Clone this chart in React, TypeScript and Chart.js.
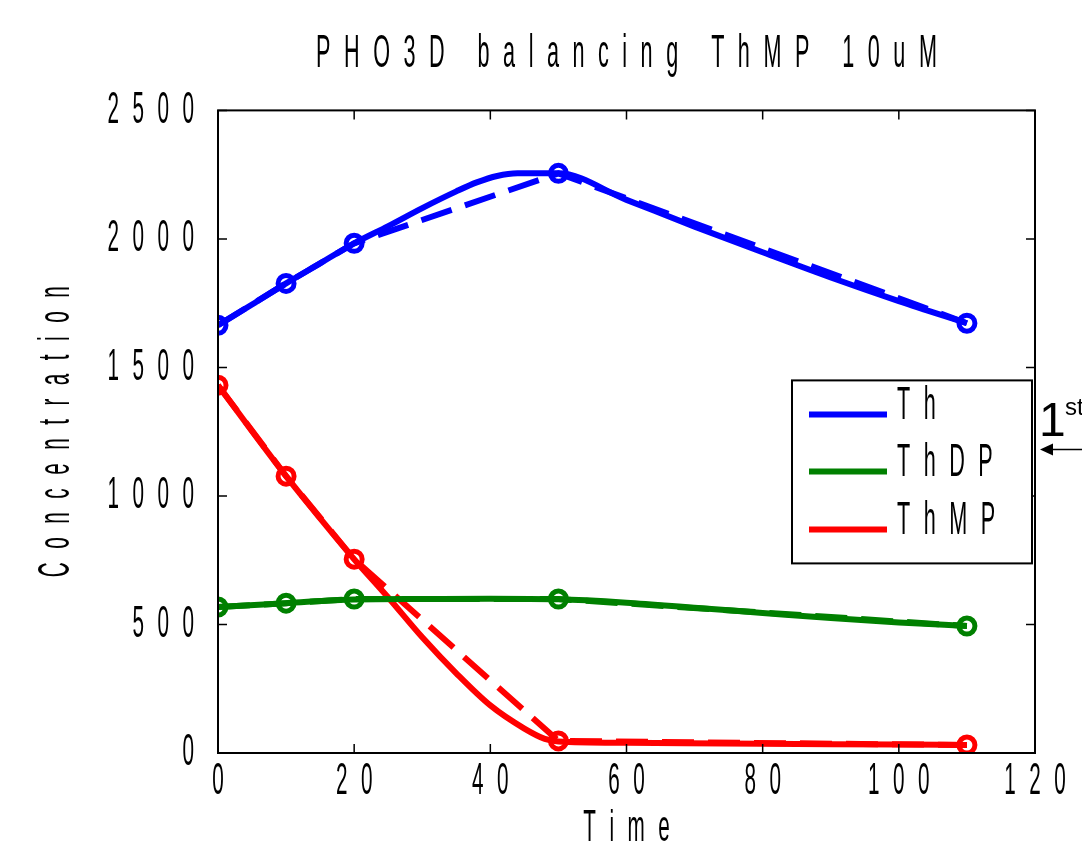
import React, { useEffect, useRef } from 'react';
import { Chart, registerables } from 'chart.js';

Chart.register(...registerables);

// ---- Data ----
const titleText = 'PHO3D balancing ThMP 10uM';
const xTitle = 'Time';
const yTitle = 'Concentration';
const legendLabels = ['Th', 'ThDP', 'ThMP'];

const xTickValues = [0, 20, 40, 60, 80, 100, 120];
const yTickValues = [0, 500, 1000, 1500, 2000, 2500];

// measured points (dashed lines with circle markers)
const times = [0, 10, 20, 50, 110];
const thData = [1664, 1827, 1983, 2255, 1672];
const thdpData = [568, 583, 599, 599, 494];
const thmpData = [1431, 1077, 754, 47, 31];

// model curves (solid lines)
const thModelTimes = [0, 5, 10, 15, 20, 25, 30, 35, 38, 41, 44, 50, 60, 70, 80, 90, 100, 110];
const thModel = [1664, 1745, 1827, 1905, 1983, 2050, 2120, 2185, 2220, 2245, 2255, 2255, 2152, 2048, 1948, 1850, 1758, 1672];
const thdpModelTimes = [0, 10, 20, 30, 40, 50, 60, 70, 80, 90, 100, 110];
const thdpModel = [568, 583, 597, 599, 600, 598, 585, 565, 545, 525, 508, 494];
const thmpModelTimes = [0, 5, 10, 15, 20, 25, 30, 35, 40, 45, 48, 50, 60, 80, 100, 110];
const thmpModel = [1431, 1252, 1077, 913, 754, 605, 450, 310, 185, 95, 55, 45, 40, 36, 33, 31];

const BLUE = '#0000ff';
const GREEN = '#008000';
const RED = '#ff0000';
const colors = [BLUE, GREEN, RED];

const FONT = 'Liberation Sans, Arial, sans-serif';
const FS = 45;
const SX = 0.46;
const SPACING = 13.5;

let origFill: any = null;

function spacedText(ctx: CanvasRenderingContext2D, text: any, x: number, y: number) {
  const chars = Array.from(String(text));
  const ws = chars.map((c) => ctx.measureText(c).width * SX);
  const total = ws.reduce((a, b) => a + b, 0) + SPACING * Math.max(0, chars.length - 1);
  const align = ctx.textAlign;
  let start = x;
  if (align === 'center') start = x - total / 2;
  else if (align === 'right' || align === 'end') start = x - total;
  ctx.textAlign = 'left';
  let pos = start;
  chars.forEach((c, i) => {
    ctx.save();
    ctx.translate(pos, y);
    ctx.scale(SX, 1);
    origFill.call(ctx, c, 0, 0);
    ctx.restore();
    pos += ws[i] + SPACING;
  });
  ctx.textAlign = align;
}

const pts = (xs: number[], ys: number[]) => xs.map((t, i) => ({ x: t, y: ys[i] }));

const boxPlugin = {
  id: 'matlabBox',
  afterDatasetsDraw(chart: any) {
    const { ctx, chartArea: a, scales } = chart;
    ctx.save();
    ctx.strokeStyle = '#000';
    ctx.lineWidth = 2;
    ctx.strokeRect(a.left, a.top, a.right - a.left, a.bottom - a.top);
    ctx.lineWidth = 1.5;
    const tl = 9;
    ctx.beginPath();
    xTickValues.forEach((v) => {
      const px = scales.x.getPixelForValue(v);
      ctx.moveTo(px, a.bottom);
      ctx.lineTo(px, a.bottom - tl);
      ctx.moveTo(px, a.top);
      ctx.lineTo(px, a.top + tl);
    });
    yTickValues.forEach((v) => {
      const py = scales.y.getPixelForValue(v);
      ctx.moveTo(a.left, py);
      ctx.lineTo(a.left + tl, py);
      ctx.moveTo(a.right, py);
      ctx.lineTo(a.right - tl, py);
    });
    ctx.stroke();
    ctx.restore();
  },
};

const legendPlugin = {
  id: 'matlabLegend',
  afterDraw(chart: any) {
    const { ctx, chartArea: a } = chart;
    const left = a.right - 243;
    const top = a.top + 270;
    const w = 240;
    const h = 183;
    ctx.save();
    ctx.fillStyle = '#fff';
    ctx.fillRect(left, top, w, h);
    ctx.strokeStyle = '#000';
    ctx.lineWidth = 2;
    ctx.strokeRect(left, top, w, h);
    const rows = [34, 91, 149];
    legendLabels.forEach((lab, i) => {
      const y = top + rows[i];
      ctx.strokeStyle = colors[i];
      ctx.lineWidth = 6;
      ctx.beginPath();
      ctx.moveTo(left + 17, y);
      ctx.lineTo(left + 95, y);
      ctx.stroke();
      ctx.fillStyle = '#000';
      ctx.font = `${FS + 2}px ${FONT}`;
      ctx.textAlign = 'left';
      ctx.textBaseline = 'middle';
      ctx.fillText(lab, left + 105, y - 8);
    });
    // "1st" annotation with arrow at the right edge
    ctx.fillStyle = '#000';
    ctx.textAlign = 'left';
    ctx.textBaseline = 'alphabetic';
    ctx.font = `48px ${FONT}`;
    origFill.call(ctx, '1', a.right + 4, top + 56);
    ctx.font = `24px ${FONT}`;
    origFill.call(ctx, 'st', a.right + 30, top + 35);
    ctx.strokeStyle = '#000';
    ctx.lineWidth = 1.5;
    ctx.beginPath();
    ctx.moveTo(chart.width, top + 69);
    ctx.lineTo(a.right + 12, top + 69);
    ctx.stroke();
    ctx.beginPath();
    ctx.moveTo(a.right + 5, top + 69);
    ctx.lineTo(a.right + 18, top + 63);
    ctx.lineTo(a.right + 18, top + 75);
    ctx.closePath();
    ctx.fill();
    ctx.restore();
  },
};

export default function App() {
  const ref = useRef<HTMLCanvasElement | null>(null);
  useEffect(() => {
    document.body.style.margin = '0';
    document.body.style.overflow = 'hidden';
    const canvas = ref.current!;
    const ctx = canvas.getContext('2d')!;
    origFill = ctx.fillText;
    (ctx as any).fillText = function (text: any, x: number, y: number) {
      spacedText(this, text, x, y);
    };
    const font = { family: FONT, size: FS, weight: 'normal' as const, lineHeight: 1.2 };
    const dashed = (ys: number[], c: string) => ({
      data: pts(times, ys),
      borderColor: c,
      backgroundColor: c,
      borderWidth: 6,
      borderDash: [32, 14],
      tension: 0,
      pointRadius: 8,
      pointBorderWidth: 5,
      pointBorderColor: c,
      pointBackgroundColor: 'rgba(0,0,0,0)',
      fill: false,
    });
    const solid = (xs: number[], ys: number[], c: string) => ({
      data: pts(xs, ys),
      borderColor: c,
      backgroundColor: c,
      borderWidth: 6,
      cubicInterpolationMode: 'monotone' as const,
      pointRadius: 0,
      fill: false,
    });
    const chart = new Chart(ctx, {
      type: 'line',
      data: {
        datasets: [
          solid(thModelTimes, thModel, BLUE),
          dashed(thData, BLUE),
          solid(thdpModelTimes, thdpModel, GREEN),
          dashed(thdpData, GREEN),
          solid(thmpModelTimes, thmpModel, RED),
          dashed(thmpData, RED),
        ] as any,
      },
      options: {
        animation: false,
        responsive: false,
        layout: { padding: { left: 0, right: 47, top: 0, bottom: 0 } },
        plugins: {
          legend: { display: false },
          tooltip: { enabled: false },
          title: {
            display: true,
            text: titleText,
            fullSize: false,
            color: '#000',
            font: { ...font, size: 47 },
            padding: { top: 26, bottom: 28 },
          },
        },
        scales: {
          x: {
            type: 'linear',
            min: 0,
            max: 120,
            afterBuildTicks: (s: any) => {
              s.ticks = xTickValues.map((v) => ({ value: v }));
            },
            afterFit: (s: any) => {
              s.height = 104;
            },
            grid: { display: false, drawTicks: false },
            border: { display: false },
            ticks: {
              color: '#000',
              font,
              padding: 2,
              maxRotation: 0,
              autoSkip: false,
              callback: (v: any) => String(v),
            },
            title: { display: true, text: xTitle, color: '#000', font, padding: { top: 0, bottom: 1 } },
          },
          y: {
            type: 'linear',
            min: 0,
            max: 2500,
            afterBuildTicks: (s: any) => {
              s.ticks = yTickValues.map((v) => ({ value: v }));
            },
            afterFit: (s: any) => {
              s.width = 218;
            },
            grid: { display: false, drawTicks: false },
            border: { display: false },
            ticks: {
              color: '#000',
              font,
              padding: 24,
              autoSkip: false,
              callback: (v: any) => String(v),
            },
            title: { display: true, text: yTitle, color: '#000', font, padding: { top: 30, bottom: 0 } },
          },
        },
      } as any,
      plugins: [boxPlugin, legendPlugin],
    });
    return () => {
      chart.destroy();
      (ctx as any).fillText = origFill;
    };
  }, []);
  return (
    <div style={{ width: 1082, height: 857 }}>
      <canvas ref={ref} width={1082} height={857} style={{ display: 'block' }} />
    </div>
  );
}
